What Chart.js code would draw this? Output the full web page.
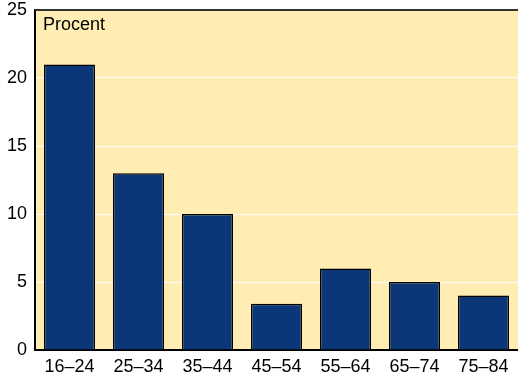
<!DOCTYPE html>
<html>
<head>
<meta charset="utf-8">
<script src="https://cdn.jsdelivr.net/npm/chart.js@4/dist/chart.umd.min.js"></script>
<style>
  html, body { margin: 0; padding: 0; background: #fff; }
  #wrap { width: 518px; height: 377px; }
</style>
</head>
<body>
<div id="wrap"><canvas id="chart" width="518" height="377"></canvas></div>
<script>
const ageGroups = ['16–24', '25–34', '35–44', '45–54', '55–64', '65–74', '75–84'];
const shares = [21, 13, 10, 3.4, 6, 5, 4];
const yTicks = [0, 5, 10, 15, 20, 25];

// yellow plot background, top frame line and the unit label
const plotDecor = {
    id: 'plotDecor',
    beforeDraw(c) {
        const a = c.chartArea, ctx = c.ctx;
        ctx.save();
        ctx.fillStyle = '#ffedb3';
        ctx.fillRect(a.left, a.top, a.right - a.left, a.bottom - a.top);
        ctx.restore();
    },
    afterDraw(c) {
        const a = c.chartArea, ctx = c.ctx;
        ctx.save();
        ctx.strokeStyle = '#333';
        ctx.lineWidth = 2;
        ctx.beginPath();
        ctx.moveTo(a.left, a.top);
        ctx.lineTo(a.right, a.top);
        ctx.stroke();
        ctx.fillStyle = '#000';
        ctx.font = '18px "Liberation Sans", Arial, sans-serif';
        ctx.textBaseline = 'middle';
        ctx.fillText('Procent', a.left + 8, a.top + 15);
        ctx.restore();
    }
};

Chart.defaults.font.family = '"Liberation Sans", Arial, sans-serif';
Chart.defaults.font.size = 18;
Chart.defaults.color = '#000';

new Chart(document.getElementById('chart'), {
    type: 'bar',
    data: {
        labels: ageGroups,
        datasets: [{
            data: shares,
            backgroundColor: '#0b3678',
            borderColor: '#000',
            borderWidth: 1.5,
            barPercentage: 0.74,
            categoryPercentage: 1
        }]
    },
    options: {
        responsive: false,
        animation: false,
        layout: { padding: { top: 10, right: 0, left: 0, bottom: 0 } },
        plugins: { legend: { display: false }, tooltip: { enabled: false } },
        scales: {
            x: {
                grid: { display: false, drawTicks: false },
                border: { color: '#000', width: 2 },
                ticks: { padding: 6 },
                afterFit(s) { s.height = 27; s.paddingLeft = 0; s.paddingRight = 0; }
            },
            y: {
                min: 0,
                max: 25,
                afterBuildTicks(s) { s.ticks = yTicks.map(v => ({ value: v })); },
                grid: { color: '#fff', lineWidth: 1, drawTicks: false },
                border: { color: '#000', width: 2 },
                ticks: { padding: 8 },
                afterFit(s) { s.width = 35; s.paddingTop = 0; s.paddingBottom = 0; }
            }
        }
    },
    plugins: [plotDecor]
});
</script>
</body>
</html>
